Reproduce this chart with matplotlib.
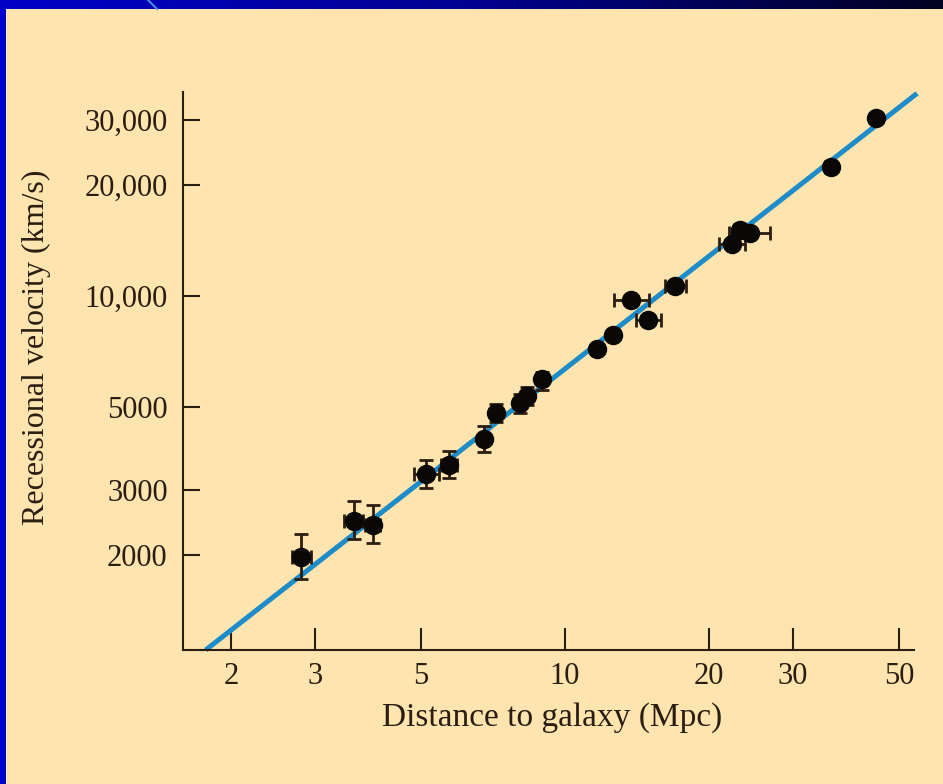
import numpy as np
import matplotlib
matplotlib.use("Agg")
import matplotlib.pyplot as plt
from matplotlib.patches import Rectangle
from matplotlib.colors import LinearSegmentedColormap
from matplotlib.ticker import FixedLocator, FixedFormatter, NullLocator

# ---- data ----
distance = [2.81, 3.61, 3.96, 5.13, 5.72, 6.76, 7.16, 8.04, 8.34, 8.93,
            11.64, 12.61, 13.75, 14.90, 17.02, 22.37, 23.20, 24.35, 35.92, 44.75]
velocity = [1967, 2470, 2404, 3297, 3493, 4101, 4819, 5129, 5366, 5955,
            7178, 7845, 9754, 8612, 10642, 13797, 15080, 14770, 22280, 30220]
dist_lo = [2.68, 3.45, 3.82, 4.83, 5.51, 6.60, 7.00, 7.85, 8.15, 8.75,
           11.40, 12.35, 12.65, 14.09, 16.20, 20.97, 22.60, 22.08, 35.0, 44.0]
dist_hi = [2.94, 3.78, 4.11, 5.45, 5.94, 6.93, 7.32, 8.24, 8.53, 9.12,
           11.88, 12.87, 14.97, 15.84, 17.87, 23.77, 23.80, 26.90, 36.9, 45.5]
vel_lo = [1718, 2200, 2154, 3032, 3228, 3789, 4563, 4837, 5064, 5569,
          7050, 7700, 9650, 8520, 10500, 13650, 14900, 14600, 22000, 29900]
vel_hi = [2274, 2798, 2723, 3603, 3812, 4453, 5097, 5435, 5686, 6243,
          7310, 7990, 9860, 8700, 10780, 13950, 15250, 14940, 22560, 30540]
fit_d = [1.771, 54.5]
fit_v = [1105, 35300]

x_ticks = [2, 3, 5, 10, 20, 30, 50]
x_labels = ["2", "3", "5", "10", "20", "30", "50"]
y_ticks = [2000, 3000, 5000, 10000, 20000, 30000]
y_labels = ["2000", "3000", "5000", "10,000", "20,000", "30,000"]

W, H = 943, 784
fig = plt.figure(figsize=(W / 100, H / 100), dpi=100)
fig.patch.set_facecolor("#0000CC")

# background axes: beige panel + top gradient strip
bg = fig.add_axes([0, 0, 1, 1], zorder=-5)
bg.set_xlim(0, W); bg.set_ylim(H, 0)
bg.axis("off")
bg.add_patch(Rectangle((0, 0), W, H, facecolor="#0000CC", edgecolor="none"))
bg.add_patch(Rectangle((6, 9), W - 6, H - 9, facecolor="#FEE5B0", edgecolor="none"))
cmap = LinearSegmentedColormap.from_list("g", ["#0000C8", "#000090", "#000020"])
bg.imshow(np.linspace(0, 1, 256)[None, :], aspect="auto", cmap=cmap,
          extent=[0, W, 9, 0], zorder=2)
bg.plot([148, 157], [0, 9], color="#4A8CE0", lw=1.5, zorder=3)
bg.set_xlim(0, W); bg.set_ylim(H, 0)

ax = fig.add_axes([183 / W, 1 - 650 / H, (914 - 183) / W, (650 - 92) / H], zorder=1)
ax.set_facecolor("none")
ax.set_xscale("log")
ax.set_yscale("log")
ax.set_xlim(1.588, 53.7)
ax.set_ylim(1105, 35600)

ink = "#2B1D12"
ax.plot(fit_d, fit_v, color="#1E8CC8", lw=3.6, solid_capstyle="butt", clip_on=False, zorder=2)

d = np.array(distance); v = np.array(velocity)
xerr = [d - np.array(dist_lo), np.array(dist_hi) - d]
yerr = [v - np.array(vel_lo), np.array(vel_hi) - v]
ax.errorbar(d, v, xerr=xerr, yerr=yerr, fmt="o", color="#0A0806", ms=13,
            ecolor=ink, elinewidth=2.0, capsize=5, capthick=2.0, zorder=3)

for s in ["top", "right"]:
    ax.spines[s].set_visible(False)
for s in ["left", "bottom"]:
    ax.spines[s].set_color(ink)
    ax.spines[s].set_linewidth(1.5)

serif = ["Liberation Serif", "DejaVu Serif"]
ax.xaxis.set_major_locator(FixedLocator(x_ticks))
ax.xaxis.set_major_formatter(FixedFormatter(x_labels))
ax.xaxis.set_minor_locator(NullLocator())
ax.yaxis.set_major_locator(FixedLocator(y_ticks))
ax.yaxis.set_major_formatter(FixedFormatter(y_labels))
ax.yaxis.set_minor_locator(NullLocator())
ax.tick_params(axis="x", direction="in", length=16, width=1.5, color=ink, pad=9,
               labelsize=22, labelcolor=ink)
ax.tick_params(axis="y", direction="in", length=12, width=1.5, color=ink, pad=11,
               labelsize=22, labelcolor=ink)
for lab in ax.get_xticklabels() + ax.get_yticklabels():
    lab.set_family(serif)

fig.text(552 / W, 1 - 718 / H, "Distance to galaxy (Mpc)", ha="center", va="center",
         fontsize=24, family=serif, color=ink)
fig.text(36 / W, 1 - 347 / H, "Recessional velocity (km/s)", ha="center", va="center",
         rotation=90, fontsize=23, family=serif, color=ink)

fig.savefig("out.png", dpi=100, facecolor=fig.get_facecolor())
